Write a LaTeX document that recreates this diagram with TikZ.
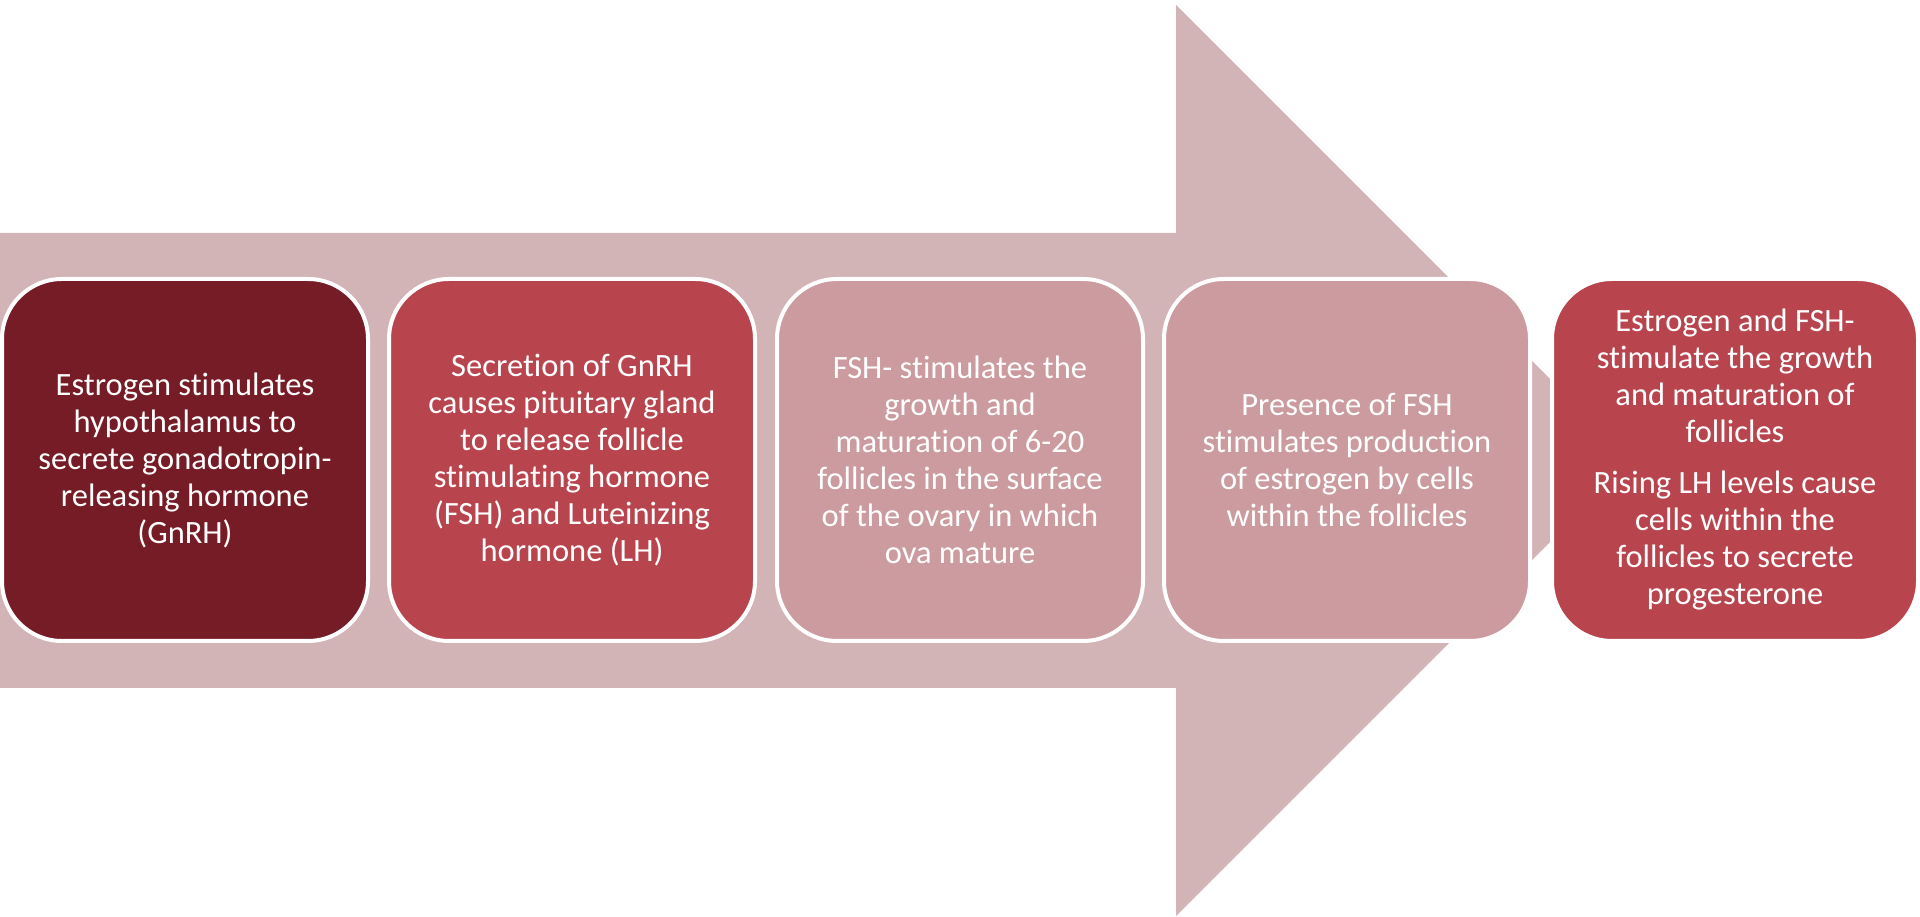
\documentclass[tikz,border=0pt]{standalone}
\usepackage{fontspec}
\setmainfont{Carlito}[Ligatures=NoCommon]
\definecolor{arrowpink}{HTML}{D2B4B7}
\definecolor{darkwine}{HTML}{761C26}
\definecolor{rosered}{HTML}{B8454E}
\definecolor{dustyrose}{HTML}{CB9B9F}
\tikzset{stage/.style={draw=white, line width=4pt, rounded corners=60pt, minimum width=366pt, minimum height=362pt, text=white, align=center, inner sep=0pt, font=\fontsize{32.5}{37}\selectfont}}
\begin{document}
\begin{tikzpicture}[x=1pt,y=1pt]
                \useasboundingbox (0,0) rectangle (1920,917);
                % big arrow behind the stages
                \fill[arrowpink] (0,229) -- (1176,229) -- (1176,1) -- (1631.5,456.5) -- (1176,912) -- (1176,684) -- (0,684) -- cycle;
                \node[stage,fill=darkwine] (b1) at (185,457) {Estrogen stimulates\\hypothalamus to\\secrete gonadotropin-\\releasing hormone\\(GnRH)};
                \node[stage,fill=rosered] (b2) at (572,457) {Secretion of GnRH\\causes pituitary gland\\to release follicle\\stimulating hormone\\(FSH) and Luteinizing\\hormone (LH)};
                \node[stage,fill=dustyrose] (b3) at (960,457) {FSH- stimulates the\\growth and\\maturation of 6-20\\follicles in the surface\\of the ovary in which\\ova mature};
                \node[stage,fill=dustyrose] (b4) at (1347,457) {Presence of FSH\\stimulates production\\of estrogen by cells\\within the follicles};
                \node[stage,fill=rosered] (b5) at (1735,457) {Estrogen and FSH-\\stimulate the growth\\and maturation of\\follicles\\[14pt]Rising LH levels cause\\cells within the\\follicles to secrete\\progesterone};
            \end{tikzpicture}
\end{document}
